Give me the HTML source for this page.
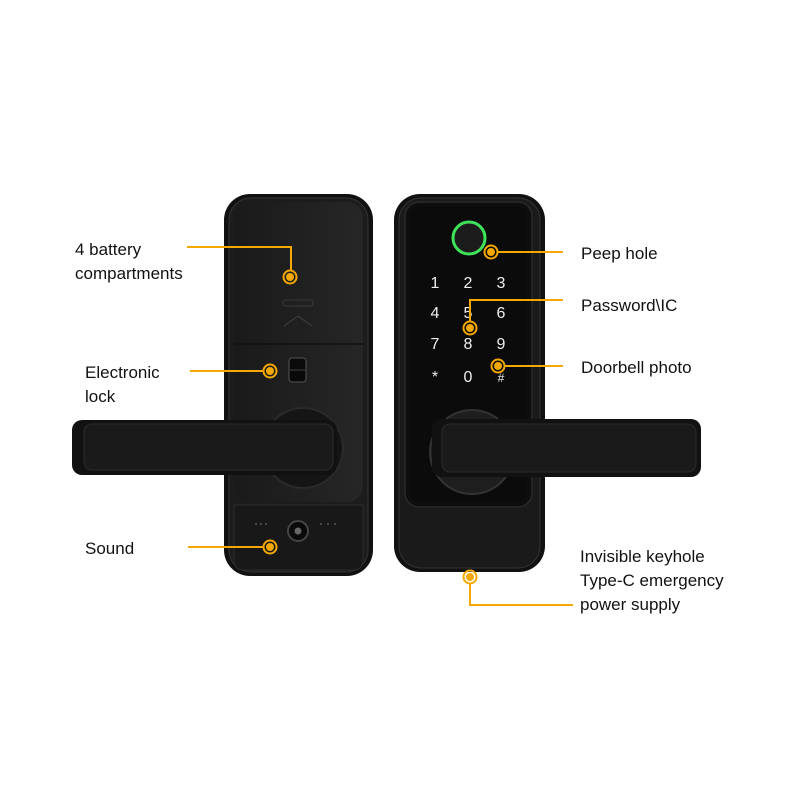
<!DOCTYPE html>
<html><head><style>
html,body{margin:0;padding:0;background:#fff;}
svg{display:block;}
text{font-family:"Liberation Sans",sans-serif;}
</style></head><body>
<svg width="800" height="800" viewBox="0 0 800 800" xmlns="http://www.w3.org/2000/svg">
<defs>
<linearGradient id="pn" x1="0" x2="1"><stop offset="0" stop-color="#1a1a1a"/><stop offset="1" stop-color="#262626"/></linearGradient>
</defs>
<!-- LEFT LOCK -->
<rect x="224" y="194" width="149" height="382" rx="26" fill="#111"/>
<rect x="229" y="198" width="139" height="374" rx="22" fill="#1c1c1c" stroke="#333" stroke-width="1"/>
<rect x="234" y="202" width="129" height="300" rx="16" fill="url(#pn)"/>
<line x1="234" y1="344" x2="363" y2="344" stroke="#111" stroke-width="1.5"/>
<rect x="283" y="300" width="30" height="6" rx="2" fill="none" stroke="#3a3a3a"/>
<path d="M284 326 L298 316 L312 326" fill="none" stroke="#3a3a3a" stroke-width="1.2"/>
<rect x="289" y="358" width="17" height="24" rx="3" fill="#0a0a0a" stroke="#555" stroke-width="1"/>
<line x1="290" y1="370" x2="305" y2="370" stroke="#444"/>
<path d="M234 505 H363 V560 Q363 570 353 570 H244 Q234 570 234 560 Z" fill="#181818" stroke="#2e2e2e"/>
<circle cx="298" cy="531" r="10" fill="#0a0a0a" stroke="#444" stroke-width="2"/>
<circle cx="298" cy="531" r="3.5" fill="#666"/>
<g fill="#555"><circle cx="256" cy="524" r="1"/><circle cx="261" cy="524" r="1"/><circle cx="266" cy="524" r="1"/><circle cx="321" cy="524" r="1"/><circle cx="328" cy="524" r="1"/><circle cx="335" cy="524" r="1"/></g>
<circle cx="303" cy="448" r="40" fill="#151515" stroke="#2a2a2a" stroke-width="2"/>
<rect x="72" y="420" width="265" height="55" rx="10" fill="#111"/>
<rect x="84" y="424" width="249" height="46" rx="8" fill="#1a1a1a" stroke="#2b2b2b"/>
<!-- RIGHT LOCK -->
<rect x="394" y="194" width="151" height="378" rx="26" fill="#111"/>
<rect x="399" y="198" width="141" height="370" rx="22" fill="#1a1a1a" stroke="#333"/>
<rect x="405" y="202" width="127" height="305" rx="14" fill="#0e0e0e" stroke="#2a2a2a" stroke-width="1.5"/>
<rect x="410" y="206" width="117" height="296" rx="10" fill="#0b0b0b"/>
<circle cx="469" cy="238" r="16" fill="#1c1c1c" stroke="#3ee35a" stroke-width="3"/>
<g fill="#eee" font-size="16" text-anchor="middle" font-family="Liberation Mono,monospace">
<text x="435" y="288">1</text><text x="468" y="288">2</text><text x="501" y="288">3</text>
<text x="435" y="318">4</text><text x="468" y="318">5</text><text x="501" y="318">6</text>
<text x="435" y="349">7</text><text x="468" y="349">8</text><text x="501" y="349">9</text>
<text x="435" y="382">*</text><text x="468" y="382">0</text><text x="501" y="382" font-size="12">#</text>
</g>
<circle cx="472" cy="452" r="42" fill="#1e1e1e" stroke="#333" stroke-width="2"/>
<rect x="432" y="419" width="269" height="58" rx="10" fill="#111"/>
<rect x="442" y="424" width="254" height="48" rx="8" fill="#1a1a1a" stroke="#2b2b2b"/>
<!-- CONNECTORS -->
<g stroke="#f5a800" stroke-width="2" fill="none">
<polyline points="187,247 291,247 291,270"/>
<line x1="190" y1="371" x2="263" y2="371"/>
<line x1="188" y1="547" x2="263" y2="547"/>
<line x1="497" y1="252" x2="563" y2="252"/>
<polyline points="470,322 470,300 563,300"/>
<line x1="505" y1="366" x2="563" y2="366"/>
<polyline points="470,583 470,605 573,605"/>
</g>
<g fill="#f5a800" stroke="#f5a800">
<circle cx="290" cy="277" r="6.5" fill="none" stroke-width="2"/><circle cx="290" cy="277" r="4" stroke="none"/>
<circle cx="270" cy="371" r="6.5" fill="none" stroke-width="2"/><circle cx="270" cy="371" r="4" stroke="none"/>
<circle cx="270" cy="547" r="6.5" fill="none" stroke-width="2"/><circle cx="270" cy="547" r="4" stroke="none"/>
<circle cx="491" cy="252" r="6.5" fill="none" stroke-width="2"/><circle cx="491" cy="252" r="4" stroke="none"/>
<circle cx="470" cy="328" r="6.5" fill="none" stroke-width="2"/><circle cx="470" cy="328" r="4" stroke="none"/>
<circle cx="498" cy="366" r="6.5" fill="none" stroke-width="2"/><circle cx="498" cy="366" r="4" stroke="none"/>
<circle cx="470" cy="577" r="6.5" fill="none" stroke-width="2"/><circle cx="470" cy="577" r="4" stroke="none"/>
</g>
<!-- LABELS -->
<g fill="#111" font-size="17">
<text x="75" y="255">4 battery</text>
<text x="75" y="279">compartments</text>
<text x="85" y="378">Electronic</text>
<text x="85" y="402">lock</text>
<text x="85" y="554">Sound</text>
<text x="581" y="259">Peep hole</text>
<text x="581" y="311">Password\IC</text>
<text x="581" y="373">Doorbell photo</text>
<text x="580" y="562">Invisible keyhole</text>
<text x="580" y="586">Type-C emergency</text>
<text x="580" y="610">power supply</text>
</g>
</svg>
</body></html>
